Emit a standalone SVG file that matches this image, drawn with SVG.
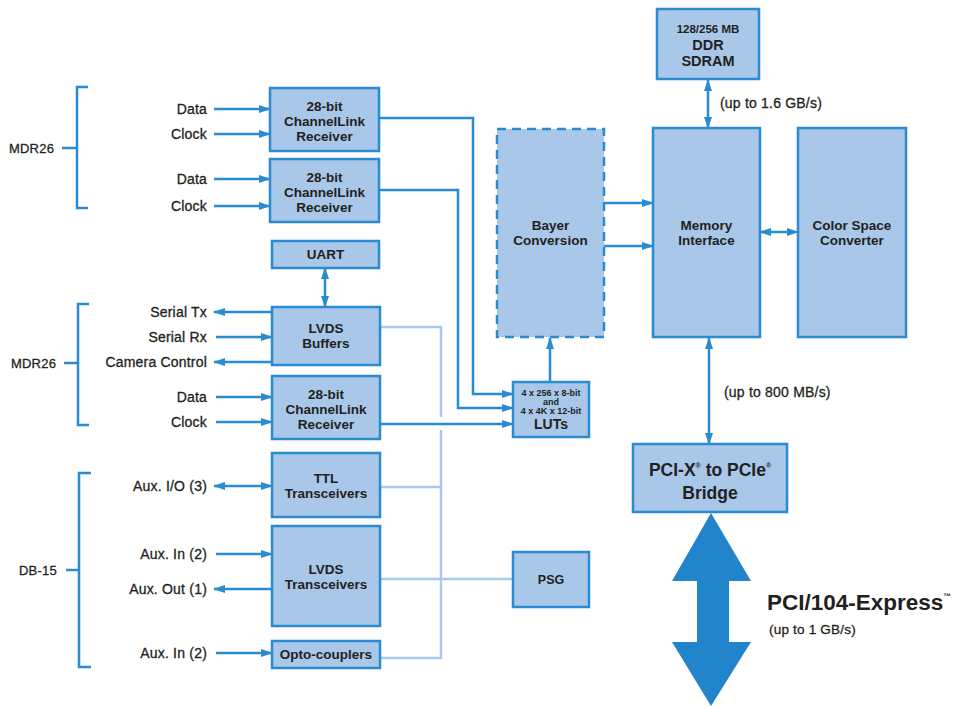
<svg xmlns="http://www.w3.org/2000/svg" width="963" height="706" viewBox="0 0 963 706">
<style>
.box{fill:#a8c7e9;stroke:#2a8bd0;stroke-width:2.5}
.dash{fill:#a8c7e9;stroke:#2a8bd0;stroke-width:2.5;stroke-dasharray:9 6}
.t{font-family:"Liberation Sans",Arial,sans-serif;font-weight:bold;fill:#231f20;text-anchor:middle}
.l{font-family:"Liberation Sans",Arial,sans-serif;fill:#231f20;stroke:#231f20;stroke-width:0.3;font-size:14px;letter-spacing:0.2px}
.r{text-anchor:end}
.c{fill:none;stroke:#2a8bd0;stroke-width:2.5}
.lt{fill:none;stroke:#a9c9ec;stroke-width:2.5}
.br{fill:none;stroke:#2a8bd0;stroke-width:2.5}
</style>
<defs>
<marker id="ah" viewBox="0 0 12 8" refX="11" refY="4" markerWidth="12" markerHeight="8" orient="auto-start-reverse" markerUnits="userSpaceOnUse"><path d="M0,0 L12,4 L0,8 z" fill="#2a8bd0"/></marker>
</defs>
<rect width="963" height="706" fill="#ffffff"/>

<g id="brackets">
<path class="br" d="M88,87 H77 V208 H88 M62,148 H77"/>
<path class="br" d="M89,304 H78 V425 H89 M64,363 H78"/>
<path class="br" d="M91,473 H79 V667 H91 M66,570 H79"/>
<text class="l" x="9" y="153" style="font-size:13px">MDR26</text>
<text class="l" x="11" y="368" style="font-size:13px">MDR26</text>
<text class="l" x="19" y="575" style="font-size:13px">DB-15</text>
</g>

<g id="connectors">
<path class="lt" d="M380,327 H441 V417 M441,430 V658 H380 M380,487 H441 M380,579 H513"/>
<path class="c" d="M214,109 H270" marker-end="url(#ah)"/>
<path class="c" d="M214,134 H270" marker-end="url(#ah)"/>
<path class="c" d="M214,179 H270" marker-end="url(#ah)"/>
<path class="c" d="M214,206 H270" marker-end="url(#ah)"/>
<path class="c" d="M272,312 H214" marker-end="url(#ah)"/>
<path class="c" d="M216,337 H272" marker-end="url(#ah)"/>
<path class="c" d="M272,362 H214" marker-end="url(#ah)"/>
<path class="c" d="M216,397 H272" marker-end="url(#ah)"/>
<path class="c" d="M216,422 H272" marker-end="url(#ah)"/>
<path class="c" d="M214,486 H272" marker-start="url(#ah)" marker-end="url(#ah)"/>
<path class="c" d="M216,554 H272" marker-end="url(#ah)"/>
<path class="c" d="M272,589 H214" marker-end="url(#ah)"/>
<path class="c" d="M216,653 H272" marker-end="url(#ah)"/>
<path class="c" d="M325,268 V307" marker-start="url(#ah)" marker-end="url(#ah)"/>
<path class="c" d="M379,118 H473 V394 H513" marker-end="url(#ah)"/>
<path class="c" d="M379,190 H458 V408 H513" marker-end="url(#ah)"/>
<path class="c" d="M380,424 H513" marker-end="url(#ah)"/>
<path class="c" d="M550,382 V338" marker-end="url(#ah)"/>
<path class="c" d="M604,203 H653" marker-end="url(#ah)"/>
<path class="c" d="M604,246 H653" marker-end="url(#ah)"/>
<path class="c" d="M760,232 H798" marker-start="url(#ah)" marker-end="url(#ah)"/>
<path class="c" d="M708,80 V128" marker-start="url(#ah)" marker-end="url(#ah)"/>
<path class="c" d="M709,338 V444" marker-start="url(#ah)" marker-end="url(#ah)"/>
<polygon points="711,513 751,581 729,581 729,642 751,642 711,706 672,642 697,642 697,581 672,581" fill="#2285cb"/>
</g>

<g id="labels">
<text class="l r" x="207" y="114">Data</text>
<text class="l r" x="207" y="139">Clock</text>
<text class="l r" x="207" y="184">Data</text>
<text class="l r" x="207" y="211">Clock</text>
<text class="l r" x="207" y="317">Serial Tx</text>
<text class="l r" x="207" y="342">Serial Rx</text>
<text class="l r" x="207" y="367">Camera Control</text>
<text class="l r" x="207" y="402">Data</text>
<text class="l r" x="207" y="427">Clock</text>
<text class="l r" x="207" y="491">Aux. I/O (3)</text>
<text class="l r" x="207" y="559">Aux. In (2)</text>
<text class="l r" x="207" y="594">Aux. Out (1)</text>
<text class="l r" x="207" y="658">Aux. In (2)</text>
<text class="l" x="720" y="108">(up to 1.6 GB/s)</text>
<text class="l" x="724" y="397">(up to 800 MB/s)</text>
<text class="t" x="767" y="610" style="text-anchor:start;font-size:22.5px">PCI/104-Express<tspan font-size="8" dy="-11">™</tspan></text>
<text class="l" x="769" y="634" style="font-size:13.5px">(up to 1 GB/s)</text>
</g>

<g id="cl1"><rect class="box" x="270" y="88" width="109" height="63"/>
<text class="t" font-size="13.5" x="324.5" y="111">28-bit</text><text class="t" font-size="13.5" x="324.5" y="126">ChannelLink</text><text class="t" font-size="13.5" x="324.5" y="141">Receiver</text></g>
<g id="cl2"><rect class="box" x="270" y="159" width="109" height="63"/>
<text class="t" font-size="13.5" x="324.5" y="182">28-bit</text><text class="t" font-size="13.5" x="324.5" y="197">ChannelLink</text><text class="t" font-size="13.5" x="324.5" y="212">Receiver</text></g>
<g id="uart"><rect class="box" x="272" y="241" width="107" height="27"/>
<text class="t" font-size="13.5" x="325.5" y="259">UART</text></g>
<g id="lvdsbuf"><rect class="box" x="272" y="307" width="108" height="58"/>
<text class="t" font-size="13.5" x="326" y="333">LVDS</text><text class="t" font-size="13.5" x="326" y="348">Buffers</text></g>
<g id="cl3"><rect class="box" x="272" y="376" width="108" height="63"/>
<text class="t" font-size="13.5" x="326" y="399">28-bit</text><text class="t" font-size="13.5" x="326" y="414">ChannelLink</text><text class="t" font-size="13.5" x="326" y="429">Receiver</text></g>
<g id="ttl"><rect class="box" x="272" y="453" width="108" height="64"/>
<text class="t" font-size="13.5" x="326" y="483">TTL</text><text class="t" font-size="13.5" x="326" y="498">Transceivers</text></g>
<g id="lvdstr"><rect class="box" x="272" y="526" width="108" height="100"/>
<text class="t" font-size="13.5" x="326" y="574">LVDS</text><text class="t" font-size="13.5" x="326" y="589">Transceivers</text></g>
<g id="opto"><rect class="box" x="272" y="641" width="108" height="27"/>
<text class="t" font-size="13.5" x="326" y="659">Opto-couplers</text></g>
<g id="bayer"><rect class="dash" x="497" y="129" width="107" height="208"/>
<text class="t" font-size="13.5" x="550.5" y="230">Bayer</text><text class="t" font-size="13.5" x="550.5" y="245">Conversion</text></g>
<g id="luts"><rect class="box" x="513" y="382" width="76" height="55"/>
<text class="t" font-size="9" x="551" y="396">4 x 256 x 8-bit</text><text class="t" font-size="9" x="551" y="405">and</text><text class="t" font-size="9" x="551" y="414">4 x 4K x 12-bit</text><text class="t" font-size="14" x="551" y="429">LUTs</text></g>
<g id="psg"><rect class="box" x="513" y="552" width="76" height="55"/>
<text class="t" font-size="12.5" x="551" y="584">PSG</text></g>
<g id="ddr"><rect class="box" x="657" y="9" width="102" height="70"/>
<text class="t" font-size="11.5" x="708" y="33">128/256 MB</text><text class="t" font-size="14.5" x="708" y="50">DDR</text><text class="t" font-size="14.5" x="708" y="66">SDRAM</text></g>
<g id="memory"><rect class="box" x="653" y="128" width="107" height="209"/>
<text class="t" font-size="13.5" x="706.5" y="230">Memory</text><text class="t" font-size="13.5" x="706.5" y="245">Interface</text></g>
<g id="colorspace"><rect class="box" x="798" y="128" width="108" height="209"/>
<text class="t" font-size="13.5" x="852" y="230">Color Space</text><text class="t" font-size="13.5" x="852" y="245">Converter</text></g>
<g id="bridge"><rect class="box" x="633" y="444" width="154" height="68"/>
<text class="t" font-size="17.5" x="710" y="476">PCI-X<tspan font-size="7" dy="-8">®</tspan><tspan dy="8"> to PCIe</tspan><tspan font-size="7" dy="-8">®</tspan></text>
<text class="t" font-size="17.5" x="710" y="499">Bridge</text></g>
</svg>
